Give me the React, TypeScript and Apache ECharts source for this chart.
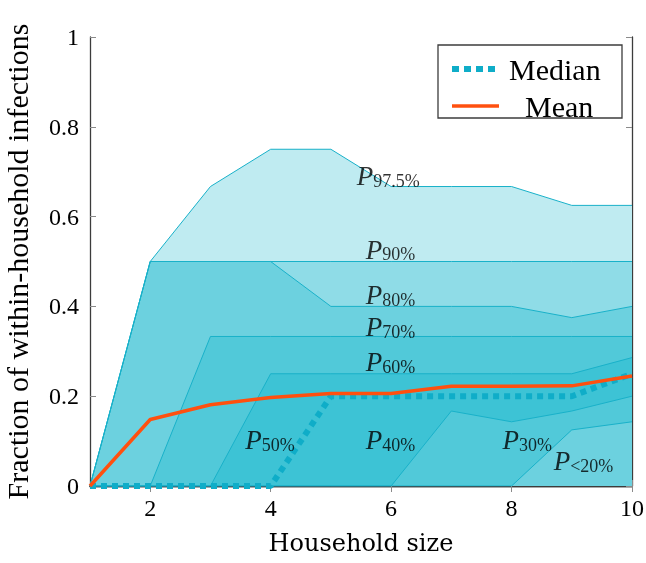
import React, { useEffect, useRef } from "react";
import * as echarts from "echarts";

const householdSize = [1, 2, 3, 4, 5, 6, 7, 8, 9, 10];
const p975 = [0, 0.5, 0.667, 0.75, 0.75, 0.667, 0.667, 0.667, 0.625, 0.625];
const p90 = [0, 0.5, 0.5, 0.5, 0.5, 0.5, 0.5, 0.5, 0.5, 0.5];
const p80 = [0, 0.5, 0.5, 0.5, 0.4, 0.4, 0.4, 0.4, 0.375, 0.4];
const p70 = [0, 0, 0.333, 0.333, 0.333, 0.333, 0.333, 0.333, 0.333, 0.333];
const p60 = [0, 0, 0, 0.25, 0.25, 0.25, 0.25, 0.25, 0.25, 0.286];
const median = [0, 0, 0, 0, 0.2, 0.2, 0.2, 0.2, 0.2, 0.25];
const p40 = [0, 0, 0, 0, 0, 0, 0.167, 0.143, 0.167, 0.2];
const p30 = [0, 0, 0, 0, 0, 0, 0, 0, 0.125, 0.143];
const mean = [0, 0.148, 0.181, 0.197, 0.206, 0.206, 0.222, 0.222, 0.223, 0.245];

const xTicks = [2, 4, 6, 8, 10];

// percentile labels: [x, y, subscript]
const bandLabels: [number, number, string][] = [
  [5.43, 0.69, "97.5%"],
  [5.58, 0.526, "90%"],
  [5.58, 0.425, "80%"],
  [5.58, 0.354, "70%"],
  [5.58, 0.276, "60%"],
  [3.58, 0.102, "50%"],
  [5.58, 0.102, "40%"],
  [7.85, 0.102, "30%"],
  [8.7, 0.055, "<20%"],
];

const F_TICK = "serif";
const F_NAME = "DejaVu Serif";
const F_LEG = "Liberation Serif";
const F_LAB = "Liberation Serif";
const EDGE = "#19b1c9";
const LAYERS = ["#bfebf1", "#8fdce7", "#6cd1df", "#51c9d9", "#3dc3d5"];

const pairs = (ys: number[]) => householdSize.map((x, i) => [x, ys[i]]);

function band(name: string, ys: number[], fill: string) {
  return {
    name,
    type: "line",
    data: pairs(ys),
    symbol: "none",
    silent: true,
    lineStyle: { color: EDGE, width: 1 },
    areaStyle: { color: fill, opacity: 1, origin: "start" },
  };
}

export default function App() {
  const ref = useRef<HTMLDivElement>(null);
  useEffect(() => {
    if (!ref.current) return;
    const chart = echarts.init(ref.current, undefined, { renderer: "svg" });
    const axisLine = () => ({ show: true, lineStyle: { color: "#3c3c3c", width: 1.3 } });
    const tick = () => ({ show: true, inside: true, length: 6, lineStyle: { color: "#8a8a8a", width: 1 } });
    chart.setOption({
      animation: false,
      grid: { left: 90, right: 14, top: 37, bottom: 77, outerBoundsMode: "none", containLabel: false },
      xAxis: [
        {
          type: "value",
          min: 1,
          max: 10,
          axisLine: axisLine(),
          axisTick: { ...tick(), customValues: xTicks },
          axisLabel: { customValues: xTicks, fontFamily: F_TICK, fontSize: 24, color: "#000", margin: 10 },
          splitLine: { show: false },
          name: "Household size",
          nameLocation: "middle",
          nameGap: 45,
          nameTextStyle: { fontFamily: F_NAME, fontSize: 24, color: "#000" },
        },
        {
          type: "value",
          position: "top",
          min: 1,
          max: 10,
          axisLine: axisLine(),
          axisTick: { ...tick(), customValues: xTicks },
          axisLabel: { show: false },
          splitLine: { show: false },
        },
      ],
      yAxis: [
        {
          type: "value",
          min: 0,
          max: 1,
          interval: 0.2,
          axisLine: axisLine(),
          axisTick: tick(),
          axisLabel: { fontFamily: F_TICK, fontSize: 24, color: "#000", margin: 11 },
          splitLine: { show: false },
          name: "Fraction of within-household infections",
          nameLocation: "middle",
          nameGap: 58,
          nameTextStyle: { fontFamily: F_LEG, fontSize: 30, color: "#000" },
        },
        {
          type: "value",
          position: "right",
          min: 0,
          max: 1,
          interval: 0.2,
          axisLine: axisLine(),
          axisTick: tick(),
          axisLabel: { show: false },
          splitLine: { show: false },
        },
      ],
      series: [
        band("P97.5", p975, LAYERS[0]),
        band("P90", p90, LAYERS[1]),
        band("P80", p80, LAYERS[2]),
        band("P70", p70, LAYERS[3]),
        band("P60", p60, LAYERS[4]),
        band("P40", p40, LAYERS[3]),
        band("P30", p30, LAYERS[2]),
        {
          name: "Median",
          type: "line",
          data: pairs(median),
          symbol: "none",
          silent: true,
          lineStyle: { color: "#0fadc8", width: 6, type: [6, 5] },
        },
        {
          name: "Mean",
          type: "line",
          data: pairs(mean),
          symbol: "none",
          silent: true,
          lineStyle: { color: "#ff500f", width: 3.5 },
        },
        {
          name: "labels",
          type: "scatter",
          symbolSize: 0,
          silent: true,
          z: 6,
          data: bandLabels.map(([x, y, s]) => ({
            value: [x, y],
            label: { formatter: `{p|P}{s|${s}}` },
          })),
          label: {
            show: true,
            position: "right",
            distance: 0,
            fontFamily: F_LAB,
            rich: {
              p: { fontFamily: F_LAB, fontStyle: "italic", fontSize: 27, lineHeight: 27, verticalAlign: "top", color: "#000" },
              s: { fontFamily: F_LAB, fontSize: 18, lineHeight: 18, verticalAlign: "bottom", padding: [14, 0, 0, 0], color: "#000" },
            },
          },
        },
      ],
      graphic: [
        {
          type: "rect",
          z: 100,
          shape: { x: 438, y: 45, width: 184, height: 73 },
          style: { fill: "#fff", stroke: "#3c3c3c", lineWidth: 1.3 },
        },
        {
          type: "line",
          z: 101,
          shape: { x1: 452, y1: 69, x2: 500, y2: 69 },
          style: { stroke: "#0fadc8", lineWidth: 6, lineDash: [7, 5] },
        },
        {
          type: "text",
          z: 101,
          x: 509,
          y: 54,
          style: { text: "Median", fontFamily: F_LEG, fontSize: 30, fill: "#000" },
        },
        {
          type: "line",
          z: 101,
          shape: { x1: 452, y1: 106, x2: 499, y2: 106 },
          style: { stroke: "#ff500f", lineWidth: 3.5 },
        },
        {
          type: "text",
          z: 101,
          x: 525,
          y: 91,
          style: { text: "Mean", fontFamily: F_LEG, fontSize: 30, fill: "#000" },
        },
      ],
    });
    return () => chart.dispose();
  }, []);
  return <div ref={ref} style={{ position: "fixed", left: 0, top: 0, width: 646, height: 563 }} />;
}
